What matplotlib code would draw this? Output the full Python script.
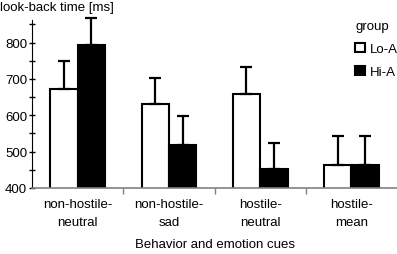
import numpy as np
import matplotlib
matplotlib.use("Agg")
import matplotlib.pyplot as plt
from matplotlib.ticker import MultipleLocator

plt.rcParams['font.family'] = ['Liberation Sans', 'DejaVu Sans']
plt.rcParams['font.size'] = 9.5

categories = ["non-hostile-\nneutral", "non-hostile-\nsad", "hostile-\nneutral", "hostile-\nmean"]
lo_a = [672, 631, 658, 464]
lo_a_err = [77, 72, 75, 80]
hi_a = [794, 519, 453, 464]
hi_a_err = [73, 79, 72, 80]

fig = plt.figure(figsize=(3.97, 2.55), dpi=100)
ax = fig.add_axes([32 / 397, 1 - 189 / 255, 1 - 32 / 397, (189 - 21) / 255])

x = np.arange(len(categories))
w = 0.3
err_kw = dict(ecolor='black', elinewidth=1.6, capsize=4.5, capthick=1.6)
b1 = ax.bar(x - w / 2, lo_a, w, color='white', edgecolor='black', linewidth=1.5,
            yerr=[np.zeros(4), lo_a_err], error_kw=err_kw, label='Lo-A', zorder=3)
b2 = ax.bar(x + w / 2, hi_a, w, color='black', edgecolor='black', linewidth=1.5,
            yerr=[np.zeros(4), hi_a_err], error_kw=err_kw, label='Hi-A', zorder=3)
# let the error bars run past the top of the axis
for b in (b1, b2):
    for part in b.errorbar.lines:
        if part is None:
            continue
        for art in (part if isinstance(part, tuple) else [part]):
            art.set_clip_on(False)

ax.set_xlim(-0.5, 3.5)
ax.set_ylim(400, 862)
ax.set_yticks([400, 500, 600, 700, 800])
ax.yaxis.set_minor_locator(MultipleLocator(50))
ax.tick_params(axis='y', which='both', direction='inout', length=5, width=1, pad=1)

ax.set_xticks([0.5, 1.5, 2.5])
ax.set_xticklabels([])
ax.tick_params(axis='x', direction='out', length=4, width=1, color='#808080')
for i, c in enumerate(categories):
    ax.text(i, 372, c, ha='center', va='top', linespacing=1.6, clip_on=False)

ax.spines['top'].set_visible(False)
ax.spines['right'].set_visible(False)
ax.spines['bottom'].set_color('#808080')
ax.spines['bottom'].set_linewidth(1.2)
ax.spines['bottom'].set_zorder(5)

fig.text(0.5 + 16 / 397, 1 - 245 / 255, "Behavior and emotion cues", ha='center', va='center')
fig.text(0.0, 1 - 8 / 255, "look-back time [ms]", ha='left', va='center')

leg = ax.legend(title='group', loc='upper left', bbox_to_anchor=(350 / 397, 1 - 16 / 255),
                bbox_transform=fig.transFigure, frameon=False,
                handlelength=0.7, handleheight=0.7, handletextpad=0.4, labelspacing=0.8,
                borderaxespad=0, alignment='left')
for h in leg.legend_handles:
    h.set_linewidth(1.5)

fig.savefig("out.png", dpi=100)
